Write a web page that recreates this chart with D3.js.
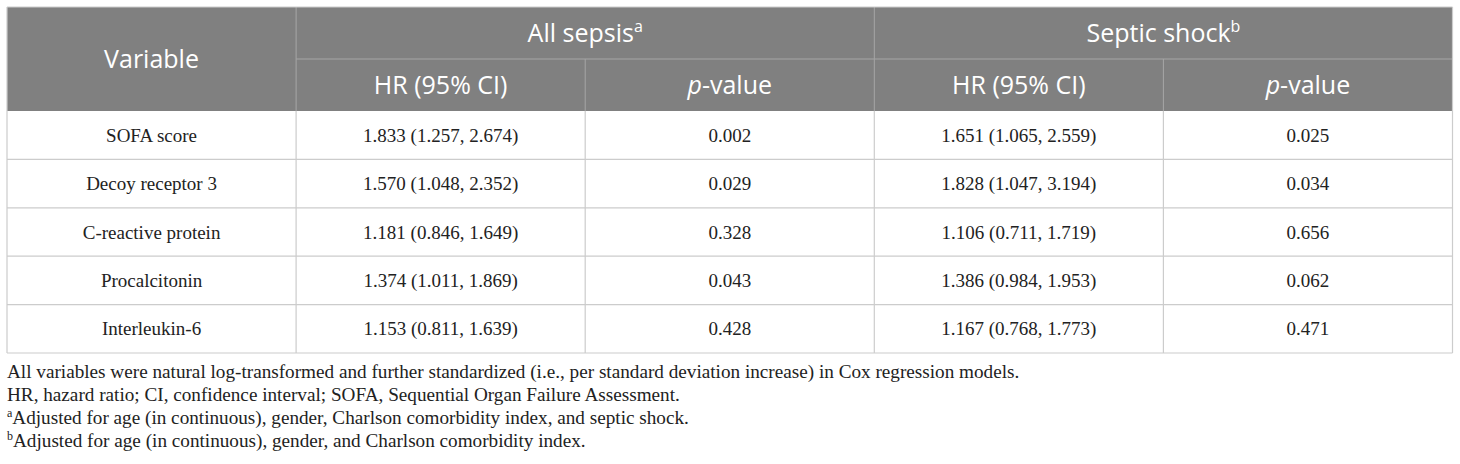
<!DOCTYPE html>
<html>
<head>
<meta charset="utf-8">
<script src="https://cdn.jsdelivr.net/npm/d3@7"></script>
<style>
  body { margin: 0; background: #fff; }
  svg { display: block; }
</style>
</head>
<body>
<div id="table"></div>
<script>
// data
const variables = ["SOFA score", "Decoy receptor 3", "C-reactive protein", "Procalcitonin", "Interleukin-6"];
const sepsisHR = ["1.833 (1.257, 2.674)", "1.570 (1.048, 2.352)", "1.181 (0.846, 1.649)", "1.374 (1.011, 1.869)", "1.153 (0.811, 1.639)"];
const sepsisP = ["0.002", "0.029", "0.328", "0.043", "0.428"];
const shockHR = ["1.651 (1.065, 2.559)", "1.828 (1.047, 3.194)", "1.106 (0.711, 1.719)", "1.386 (0.984, 1.953)", "1.167 (0.768, 1.773)"];
const shockP = ["0.025", "0.034", "0.656", "0.062", "0.471"];
const groups = [{ name: "All sepsis", sup: "a" }, { name: "Septic shock", sup: "b" }];
const footnotes = [
    { sup: "", text: "All variables were natural log-transformed and further standardized (i.e., per standard deviation increase) in Cox regression models." },
    { sup: "", text: "HR, hazard ratio; CI, confidence interval; SOFA, Sequential Organ Failure Assessment." },
    { sup: "a", text: "Adjusted for age (in continuous), gender, Charlson comorbidity index, and septic shock." },
    { sup: "b", text: "Adjusted for age (in continuous), gender, and Charlson comorbidity index." }
];

const W = 1460, H = 464;
const tLeft = 7, tRight = 1452.5, tTop = 7;
const headRow = 52, bodyBottom = 353;

const svg = d3.select("#table").append("svg")
    .attr("width", W)
    .attr("height", H);

const cols = d3.scaleBand().domain(d3.range(5)).range([tLeft, tRight]);
const rows = d3.scaleBand().domain(d3.range(variables.length)).range([tTop + 2 * headRow, bodyBottom]);

const bodyData = variables.map((v, i) => [v, sepsisHR[i], sepsisP[i], shockHR[i], shockP[i]]);

const headFont = "'Open Sans', 'Noto Sans', sans-serif";
const bodyFont = "'Liberation Serif', 'Times New Roman', serif";

// header background
svg.append("rect")
    .attr("x", tLeft).attr("y", tTop)
    .attr("width", tRight - tLeft).attr("height", 2 * headRow)
    .attr("fill", "#808080");

// header lines
const hl = svg.append("g").attr("stroke", "#a6a6a6").attr("stroke-width", 1);
hl.append("line")
    .attr("x1", cols(1)).attr("x2", tRight)
    .attr("y1", tTop + headRow).attr("y2", tTop + headRow);
[1, 3].forEach(c => hl.append("line")
    .attr("x1", cols(c)).attr("x2", cols(c))
    .attr("y1", tTop).attr("y2", tTop + 2 * headRow));
[2, 4].forEach(c => hl.append("line")
    .attr("x1", cols(c)).attr("x2", cols(c))
    .attr("y1", tTop + headRow).attr("y2", tTop + 2 * headRow));

// header text
svg.append("text")
    .attr("x", cols(0) + cols.bandwidth() / 2)
    .attr("y", tTop + headRow)
    .attr("dy", "0.35em")
    .attr("text-anchor", "middle")
    .attr("fill", "#fff")
    .style("font", `25px ${headFont}`)
    .text("Variable");

groups.forEach((g, gi) => {
    const c0 = 1 + gi * 2;
    const t = svg.append("text")
        .attr("x", cols(c0) + cols.bandwidth())
        .attr("y", tTop + headRow / 2)
        .attr("dy", "0.35em")
        .attr("text-anchor", "middle")
        .attr("fill", "#fff")
        .style("font", `25px ${headFont}`);
    t.append("tspan").text(g.name);
    t.append("tspan").attr("font-size", "16px").attr("dy", "-0.6em").text(g.sup);

    svg.append("text")
        .attr("x", cols(c0) + cols.bandwidth() / 2)
        .attr("y", tTop + headRow * 1.5)
        .attr("dy", "0.35em")
        .attr("text-anchor", "middle")
        .attr("fill", "#fff")
        .style("font", `25px ${headFont}`)
        .text("HR (95% CI)");
    const pv = svg.append("text")
        .attr("x", cols(c0 + 1) + cols.bandwidth() / 2)
        .attr("y", tTop + headRow * 1.5)
        .attr("dy", "0.35em")
        .attr("text-anchor", "middle")
        .attr("fill", "#fff")
        .style("font", `25px ${headFont}`);
    pv.append("tspan").attr("font-style", "italic").text("p");
    pv.append("tspan").text("-value");
});

// body grid
const grid = svg.append("g").attr("stroke", "#cccccc").attr("stroke-width", 1.2);
d3.range(variables.length).forEach(i => grid.append("line")
    .attr("x1", tLeft).attr("x2", tRight)
    .attr("y1", rows(i) + rows.bandwidth()).attr("y2", rows(i) + rows.bandwidth()));
d3.range(6).forEach(c => {
    const x = c < 5 ? cols(c) : tRight;
    grid.append("line")
        .attr("x1", x).attr("x2", x)
        .attr("y1", c === 0 || c === 5 ? tTop : rows(0)).attr("y2", bodyBottom);
});
grid.append("line")
    .attr("x1", tLeft).attr("x2", tRight)
    .attr("y1", tTop).attr("y2", tTop);

// body text
svg.append("g").selectAll("g")
    .data(bodyData)
    .join("g")
    .attr("transform", (d, i) => `translate(0,${rows(i) + rows.bandwidth() / 2})`)
    .selectAll("text")
    .data(d => d)
    .join("text")
    .attr("x", (d, c) => cols(c) + cols.bandwidth() / 2)
    .attr("dy", "0.35em")
    .attr("text-anchor", "middle")
    .attr("fill", "#222")
    .style("font", `19px ${bodyFont}`)
    .text(d => d);

// footnotes
const fn = svg.append("g").selectAll("text")
    .data(footnotes)
    .join("text")
    .attr("x", tLeft)
    .attr("y", (d, i) => 378 + i * 23)
    .attr("fill", "#222")
    .style("font", `19.2px ${bodyFont}`);
fn.filter(d => d.sup)
    .append("tspan")
    .attr("font-size", "12px")
    .attr("baseline-shift", "7px")
    .text(d => d.sup);
fn.append("tspan").text(d => d.text);
</script>
</body>
</html>
